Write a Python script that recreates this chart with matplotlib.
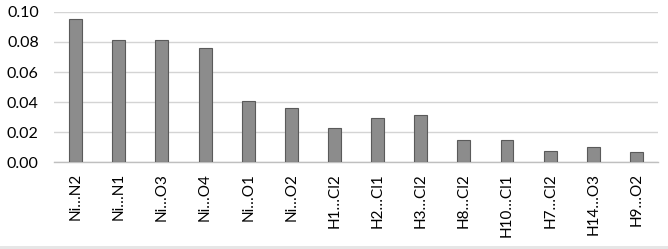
import matplotlib
matplotlib.use("Agg")
import matplotlib.pyplot as plt
from matplotlib.patches import Rectangle

categories = ["Ni…N2", "Ni…N1", "Ni…O3", "Ni…O4", "Ni…O1", "Ni…O2", "H1…Cl2",
              "H2…Cl1", "H3…Cl2", "H8…Cl2", "H10…Cl1", "H7…Cl2", "H14…O3", "H9…O2"]
values = [0.095, 0.081, 0.081, 0.076, 0.041, 0.036, 0.023,
          0.0295, 0.0315, 0.0145, 0.0145, 0.0075, 0.0098, 0.0069]
yticks = [0.00, 0.02, 0.04, 0.06, 0.08, 0.10]
ytick_labels = ["0.00", "0.02", "0.04", "0.06", "0.08", "0.10"]

plt.rcParams['font.family'] = ['Lato', 'DejaVu Sans']

fig = plt.figure(figsize=(6.68, 2.49), dpi=100)
ax = fig.add_axes([0.081, 0.349, 0.904, 0.603])

x = list(range(len(categories)))
ax.bar(x, values, width=0.3, color="#8c8c8c", edgecolor="#5a5a5a", linewidth=0.8, zorder=3)

ax.set_xlim(-0.5, len(categories) - 0.5)
ax.set_ylim(0, 0.10)
ax.set_yticks(yticks)
ax.set_yticklabels(ytick_labels, fontsize=11.5, color="#000000")
ax.set_xticks(x)
ax.set_xticklabels(categories, rotation=90, fontsize=11, color="#000000")
ax.tick_params(axis='x', length=0, pad=8)
ax.tick_params(axis='y', length=0, pad=11)

ax.grid(axis='y', color="#d4d4d4", linewidth=1, zorder=0)
for s in ["top", "right", "left"]:
    ax.spines[s].set_visible(False)
ax.spines["bottom"].set_color("#bfbfbf")
ax.spines["bottom"].set_linewidth(1)

fig.patches.append(Rectangle((0, 0), 1, 3 / 249, transform=fig.transFigure,
                             facecolor="#e6e6e6", edgecolor="none"))

fig.savefig("out.png", dpi=100)
